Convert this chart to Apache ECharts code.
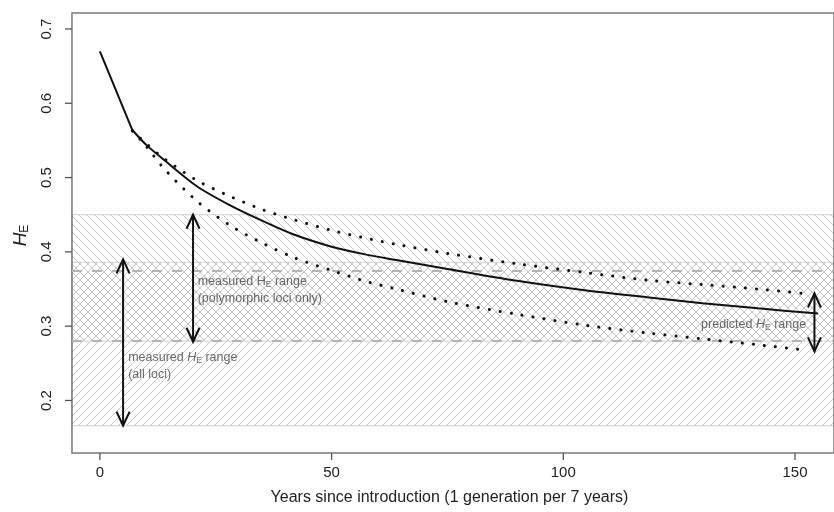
<!DOCTYPE html>
<html>
<head>
<meta charset="utf-8">
<script src="https://cdn.jsdelivr.net/npm/echarts@6/dist/echarts.min.js"></script>
<style>
html, body { margin: 0; background: #fff; }
#chart { width: 834px; height: 512px; }
</style>
</head>
<body>
<div id="chart"></div>
<script>
// predicted HE, mean curve
const years = [0, 7, 10, 14, 21, 28, 35, 42, 50, 57, 64, 75, 90, 105, 118, 130, 142, 155]
const heMean = [0.670, 0.564, 0.544, 0.523, 0.488, 0.463, 0.442, 0.423, 0.407, 0.397, 0.389, 0.377, 0.361, 0.348, 0.339, 0.331, 0.324, 0.317]
// predicted range (dotted)
const yearsCI = [7, 10, 14, 21, 28, 35, 42, 50, 57, 64, 75, 90, 105, 118, 130, 142, 152]
const heHigh = [0.563, 0.546, 0.525, 0.496, 0.475, 0.457, 0.443, 0.429, 0.419, 0.410, 0.398, 0.384, 0.372, 0.362, 0.356, 0.350, 0.344]
const heLow = [0.563, 0.542, 0.511, 0.468, 0.436, 0.412, 0.392, 0.375, 0.361, 0.350, 0.333, 0.316, 0.301, 0.291, 0.283, 0.275, 0.268]
// measured ranges
const bandAll = [0.166, 0.386]
const bandPoly = [0.28, 0.45]
const dashLevels = [0.375, 0.28]
// arrows: x, low, high
const arrowX = [5, 20.1, 154.2]
const arrowLow = [0.166, 0.279, 0.266]
const arrowHigh = [0.39, 0.45, 0.344]
const xTicks = [0, 50, 100, 150]
const yTicks = [0.2, 0.3, 0.4, 0.5, 0.6, 0.7]

// plot box (R's usr region) and the slightly wider axis range that leaves room for the ticks
const box = { x0: -6.03, x1: 158.42, y0: 0.1293, y1: 0.7215 }
const xRange = [-7.533, 158.42]
const yRange = [0.1199, 0.7242]

const font = 'Liberation Sans, Arial, sans-serif'

function hatch(dir) {
  const s = 8
  const c = document.createElement('canvas')
  c.width = s
  c.height = s
  const g = c.getContext('2d')
  g.strokeStyle = '#c6c6c6'
  g.lineWidth = 1
  g.beginPath()
  if (dir > 0) {
    g.moveTo(-1, s + 1); g.lineTo(s + 1, -1)
    g.moveTo(-1, 1); g.lineTo(1, -1)
    g.moveTo(s - 1, s + 1); g.lineTo(s + 1, s - 1)
  } else {
    g.moveTo(-1, -1); g.lineTo(s + 1, s + 1)
    g.moveTo(s - 1, -1); g.lineTo(s + 1, 1)
    g.moveTo(-1, s - 1); g.lineTo(1, s + 1)
  }
  g.stroke()
  return c
}

const rich = {
  t: { fontSize: 12.5, color: '#444', fontFamily: font, lineHeight: 17 },
  h: { fontSize: 12.5, color: '#444', fontFamily: font, lineHeight: 17 },
  hi: { fontSize: 12.5, color: '#444', fontFamily: font, fontStyle: 'italic', lineHeight: 17 },
  s: { fontSize: 8.5, color: '#444', fontFamily: font, padding: [6, 0, 0, 0], lineHeight: 17 }
}

const labels = [
  { value: [21.1, 0.3487], text: '{t|measured }{h|H}{s|E}{t| range}\n{t|(polymorphic loci only)}', align: 'left' },
  { value: [6.1, 0.2464], text: '{t|measured }{hi|H}{s|E}{t| range}\n{t|(all loci)}', align: 'left' },
  { value: [152.4, 0.3016], text: '{t|predicted }{hi|H}{s|E}{t| range}', align: 'right' }
]

const dotted = { color: '#111', width: 3, type: [0.1, 11], cap: 'round' }
const bandBorder = { borderColor: '#d0d0d0', borderWidth: 1 }

const chart = echarts.init(document.getElementById('chart'))
chart.setOption({
  animation: false,
  grid: { left: 65, top: 11, right: -2, bottom: 52, show: false },
  xAxis: {
    type: 'value', min: xRange[0], max: xRange[1],
    axisLine: { show: false, onZero: false },
    splitLine: { show: false },
    axisTick: { show: false },
    axisLabel: { customValues: xTicks, fontSize: 15, color: '#222', fontFamily: font, margin: 5 },
    name: 'Years since introduction (1 generation per 7 years)',
    nameLocation: 'middle', nameGap: 30,
    nameTextStyle: { fontSize: 16, color: '#222', fontFamily: font }
  },
  yAxis: {
    type: 'value', min: yRange[0], max: yRange[1],
    axisLine: { show: false, onZero: false },
    splitLine: { show: false },
    axisTick: { show: false },
    axisLabel: { customValues: yTicks, rotate: 90, fontSize: 15, color: '#222', fontFamily: font, margin: 11,
      formatter: v => v.toFixed(1) },
    name: '{h|H}{s|E}',
    nameLocation: 'middle', nameGap: 29, nameRotate: 90,
    nameTextStyle: {
      rich: {
        h: { fontSize: 19, fontStyle: 'italic', color: '#222', fontFamily: font },
        s: { fontSize: 12, color: '#222', fontFamily: font, padding: [8, 0, 0, 0] }
      }
    }
  },
  series: [
    {
      name: 'bands', type: 'line', data: [], silent: true, z: 1,
      markArea: {
        silent: true,
        data: [
          [{ coord: [box.x0, bandAll[0]], itemStyle: Object.assign({ color: { image: hatch(1), repeat: 'repeat' } }, bandBorder) },
           { coord: [box.x1, bandAll[1]] }],
          [{ coord: [box.x0, bandPoly[0]], itemStyle: Object.assign({ color: { image: hatch(-1), repeat: 'repeat' } }, bandBorder) },
           { coord: [box.x1, bandPoly[1]] }]
        ]
      },
      markLine: {
        silent: true, symbol: 'none', label: { show: false },
        lineStyle: { color: '#b4b4b4', type: [10, 10], width: 2 },
        data: dashLevels.map(v => [{ coord: [box.x0, v] }, { coord: [box.x1, v] }])
      }
    },
    {
      // plot frame
      name: 'frame', type: 'line', data: [], silent: true, z: 8,
      markArea: {
        silent: true,
        itemStyle: { color: 'rgba(0,0,0,0)', borderColor: '#7a7a7a', borderWidth: 1.5 },
        data: [[{ coord: [box.x0, box.y0] }, { coord: [box.x1 + 1, box.y1] }]]
      }
    },
    {
      // first generation step is a straight segment
      name: 'mean-start', type: 'line', z: 5, showSymbol: false,
      data: years.slice(0, 2).map((x, i) => [x, heMean[i]]),
      lineStyle: { color: '#111', width: 2 }
    },
    {
      name: 'mean', type: 'line', z: 5, showSymbol: false, smooth: 0.3,
      data: years.slice(1).map((x, i) => [x, heMean[i + 1]]),
      lineStyle: { color: '#111', width: 2 }
    },
    {
      name: 'high', type: 'line', z: 5, showSymbol: false, smooth: 0.3,
      data: yearsCI.map((x, i) => [x, heHigh[i]]),
      lineStyle: dotted
    },
    {
      name: 'low', type: 'line', z: 5, showSymbol: false, smooth: 0.3,
      data: yearsCI.map((x, i) => [x, heLow[i]]),
      lineStyle: dotted
    },
    {
      name: 'arrows', type: 'custom', z: 6, silent: true,
      encode: { x: 0, y: [1, 2] },
      data: arrowX.map((x, i) => [x, arrowLow[i], arrowHigh[i]]),
      renderItem: (params, api) => {
        const x = api.value(0)
        const top = api.coord([x, api.value(2)])
        const bot = api.coord([x, api.value(1)])
        const h = 14, w = 6.5
        const st = { stroke: '#111', lineWidth: 2, fill: null }
        return {
          type: 'group',
          children: [
            { type: 'line', shape: { x1: top[0], y1: top[1], x2: bot[0], y2: bot[1] }, style: st },
            { type: 'polyline', shape: { points: [[top[0] - w, top[1] + h], top, [top[0] + w, top[1] + h]] }, style: st },
            { type: 'polyline', shape: { points: [[bot[0] - w, bot[1] - h], bot, [bot[0] + w, bot[1] - h]] }, style: st }
          ]
        }
      }
    },
    {
      // R-style ticks just outside the frame; last column: 0 = x axis, 1 = y axis
      name: 'ticks', type: 'custom', z: 8, silent: true,
      encode: { x: 0, y: 1 },
      data: xTicks.map(v => [v, box.y0, 0]).concat(yTicks.map(v => [box.x0, v, 1])),
      renderItem: (params, api) => {
        const p = api.coord([api.value(0), api.value(1)])
        const isY = api.value(2) === 1
        return {
          type: 'line',
          shape: isY
            ? { x1: p[0], y1: p[1], x2: p[0] - 7, y2: p[1] }
            : { x1: p[0], y1: p[1], x2: p[0], y2: p[1] + 7 },
          style: { stroke: '#555', lineWidth: 1.3 }
        }
      }
    },
    {
      name: 'labels', type: 'scatter', z: 7, silent: true, symbolSize: 0,
      data: labels.map(l => ({
        value: l.value,
        label: {
          show: true, position: [0, 0], align: l.align, verticalAlign: 'middle',
          formatter: l.text, rich: rich
        }
      }))
    }
  ]
})
</script>
</body>
</html>
